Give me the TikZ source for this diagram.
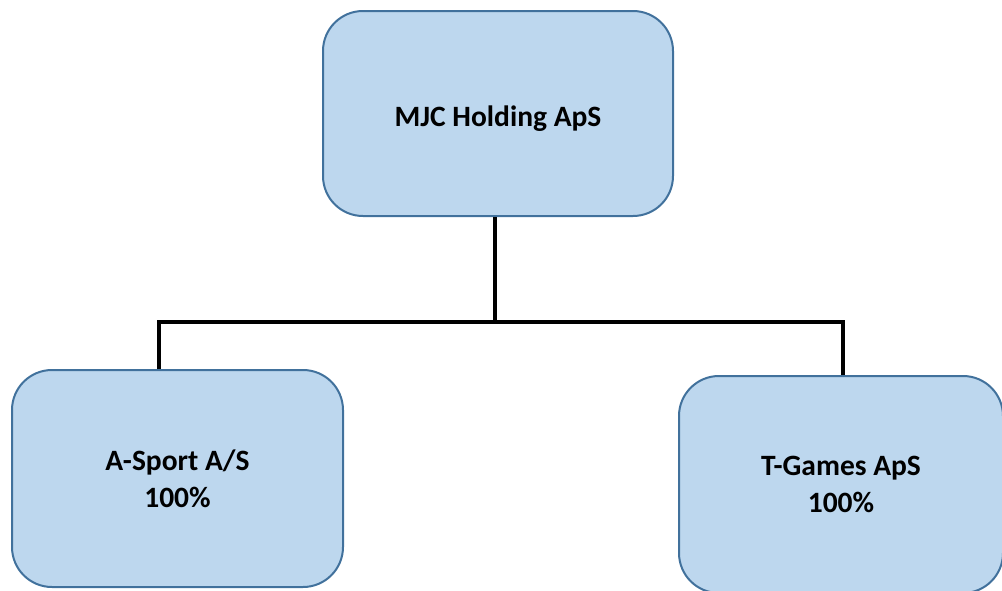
\documentclass[tikz,border=0pt]{standalone}
\usepackage{fontspec}
\setmainfont{Carlito}
\usetikzlibrary{positioning}

\definecolor{boxfill}{RGB}{189,215,238}
\definecolor{boxedge}{RGB}{65,113,156}

\begin{document}
\begin{tikzpicture}[x=1pt, y=-1pt,
    company/.style={draw=boxedge, fill=boxfill, line width=2pt, rounded corners=40pt,
        align=center, font=\bfseries\fontsize{29.5}{37}\selectfont, inner sep=0pt},
    orgline/.style={line width=4pt}]
    \useasboundingbox (0,0) rectangle (1002,590);
    \clip (0,0) rectangle (1002,590);
    \node[company, minimum width=350pt, minimum height=205pt] (mjc) at (498,113.5) {};
    \node (mjctext) at (498,119) [font=\bfseries\fontsize{29.5}{37}\selectfont] {MJC Holding ApS};
    \node[company, minimum width=331pt, minimum height=217pt] (sport) at (177.5,478.5) {A-Sport A/S\\100\%};
    \node[company, minimum width=324pt, minimum height=217pt] (games) at (841,484.5) {T-Games ApS\\100\%};
    \coordinate (busL) at (159,322);
    \coordinate (busR) at (843,322);
    \draw[orgline] ([xshift=-3pt]mjc.south) -- ([xshift=-3pt]mjc.south |- busL);
    \draw[orgline] (busL |- sport.north) -- (busL) -- (busR) -- (busR |- games.north);
\end{tikzpicture}
\end{document}
